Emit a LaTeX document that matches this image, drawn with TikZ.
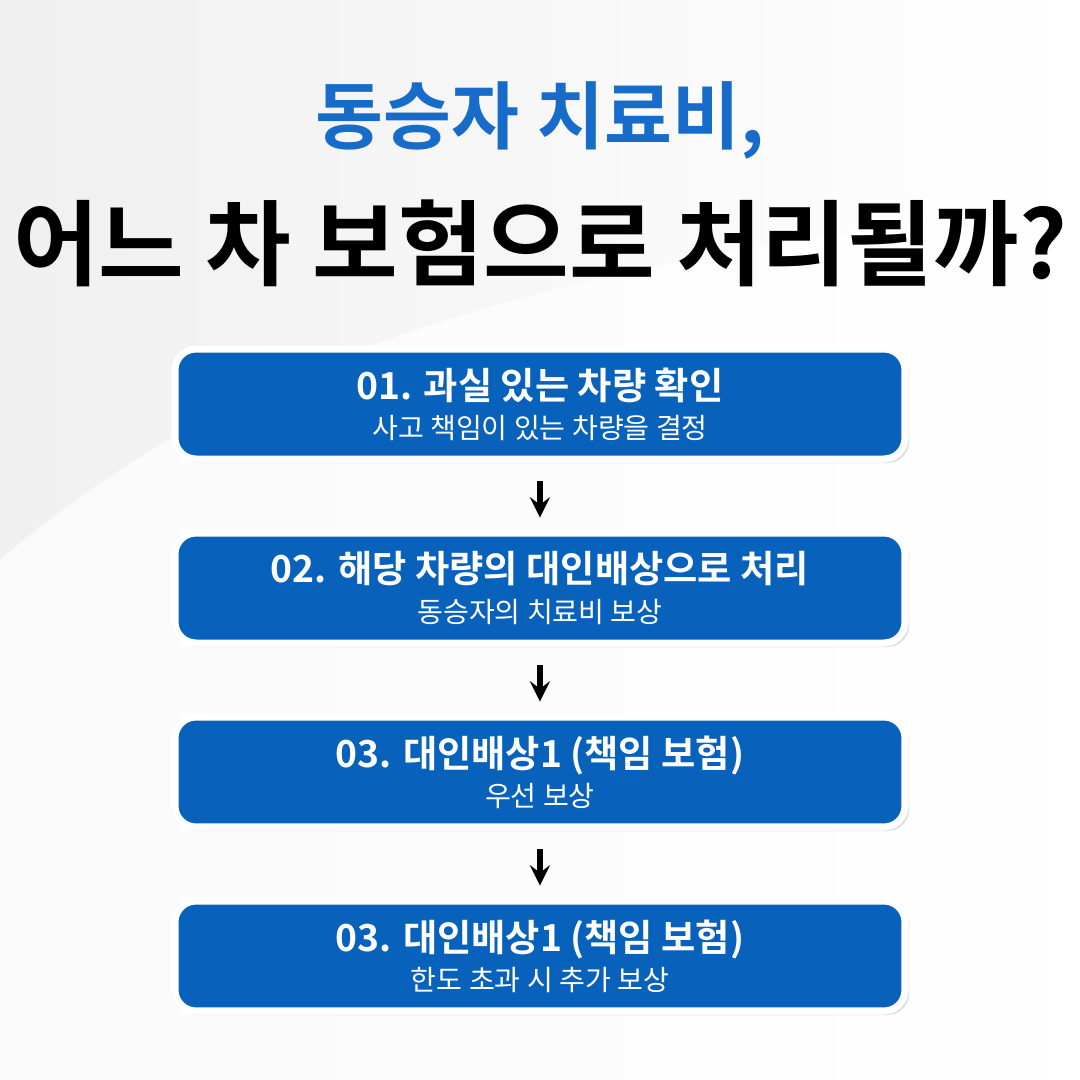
\documentclass[tikz,border=0pt]{standalone}
\usepackage{fontspec}
\newfontfamily\kr{Noto Sans CJK KR}[BoldFont={* Bold}]
\usetikzlibrary{positioning,shadows}
\definecolor{titleblue}{RGB}{22,108,200}
\definecolor{boxblue}{RGB}{8,98,188}
\tikzset{
  stepbox/.style={rectangle, rounded corners=6pt, draw=white, line width=2pt, fill=boxblue,
    minimum width=73mm, minimum height=11mm, text=white, align=center,
    drop shadow={opacity=0.25, shadow xshift=0.4mm, shadow yshift=-0.4mm}, font=\kr},
  flow/.style={->, >=stealth, line width=1.5pt, black}
}
\newcommand{\steptext}[2]{{\bfseries\fontsize{10.6}{12}\selectfont #1}\\[-0.3mm]{\fontsize{8}{9}\selectfont #2}}
\begin{document}
\begin{tikzpicture}[x=0.1mm, y=-0.1mm]
\shade[left color=gray!12, right color=white] (0,0) rectangle (1080,1080);
\fill[white, opacity=0.7] (0,560) .. controls (300,300) and (700,250) .. (1080,200) -- (1080,1080) -- (0,1080) -- cycle;
\useasboundingbox (0,0) rectangle (1080,1080);
% title
\node[font=\kr\bfseries\fontsize{21}{25}\selectfont, text=titleblue] (t1) at (540,120) {동승자 치료비,};
\node[font=\kr\bfseries\fontsize{26.5}{30}\selectfont] (t2) at (540,243) {어느 차 보험으로 처리될까?};
% steps
\node[stepbox] (s1) at (540,404) {\steptext{01. 과실 있는 차량 확인}{사고 책임이 있는 차량을 결정}};
\node[stepbox] (s2) at (540,588) {\steptext{02. 해당 차량의 대인배상으로 처리}{동승자의 치료비 보상}};
\node[stepbox] (s3) at (540,772) {\steptext{03. 대인배상1 (책임 보험)}{우선 보상}};
\node[stepbox] (s4) at (540,956) {\steptext{03. 대인배상1 (책임 보험)}{한도 초과 시 추가 보상}};
\foreach \a/\b in {s1/s2, s2/s3, s3/s4}
  \draw[flow] ([yshift=-1.8mm]\a.south) -- ([yshift=1.2mm]\b.north);
\end{tikzpicture}
\end{document}
